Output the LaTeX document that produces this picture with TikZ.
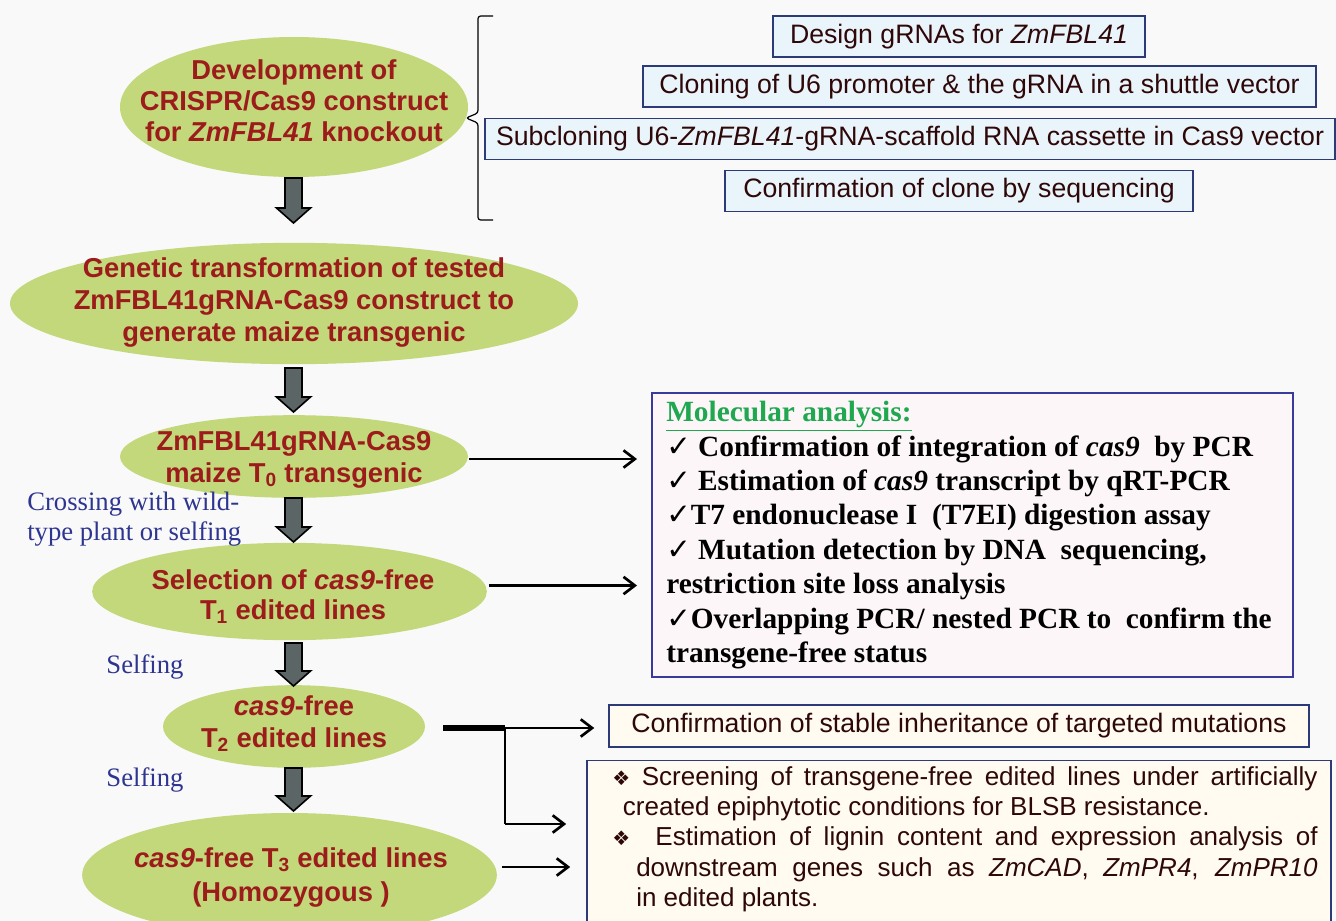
\documentclass[tikz,border=0pt]{standalone}
\usepackage{fontspec}
\setmainfont{Liberation Sans}
\newfontfamily\lserif{Liberation Serif}
\newfontfamily\dvsans{DejaVu Sans}
\usetikzlibrary{shapes.geometric,arrows.meta,calc}
\definecolor{ellgreen}{HTML}{C3D77B}
\definecolor{ellred}{HTML}{9C1B1B}
\definecolor{arrgray}{HTML}{5B6566}
\definecolor{boxfill}{HTML}{EAF4FB}
\definecolor{boxline}{HTML}{2C3A78}
\definecolor{boxtext}{HTML}{2E0808}
\definecolor{molfill}{HTML}{FDF6F8}
\definecolor{molline}{HTML}{3A3A9A}
\definecolor{titlegreen}{HTML}{1FA84F}
\definecolor{navy}{HTML}{2D3590}
\definecolor{cream}{HTML}{FFFBF0}
\definecolor{bgcol}{HTML}{F9F9F9}
\newcommand\blockarrow[3]{%
  \filldraw[blockarr] (#1-8.5,#2) -- (#1+8.5,#2) -- (#1+8.5,#3-15) -- (#1+17,#3-15)
    -- (#1,#3) -- (#1-17,#3-15) -- (#1-8.5,#3-15) -- cycle;}
\newcommand\dmd{{\dvsans\fontsize{15}{15}\selectfont ❖}}
\begin{document}
\begin{tikzpicture}[x=0.75pt,y=-0.75pt,
  ellshape/.style={ellipse, fill=ellgreen, inner sep=0pt, outer sep=0pt},
  elltext/.style={align=center, text=ellred, inner sep=0pt,
    font=\bfseries\fontsize{20.5}{24}\selectfont},
  tbox/.style={rectangle, draw=boxline, line width=1.1pt, fill=boxfill, inner sep=0pt,
    minimum height=31pt, text=boxtext, font=\fontsize{20}{24}\selectfont},
  conn/.style={line width=2pt, -{Straight Barb[length=8.5pt,width=13pt,line width=2pt]}},
  blockarr/.style={fill=arrgray, draw=black, line width=1.2pt, line join=miter},
  lab/.style={text=navy, font=\lserif\fontsize{20}{23}\selectfont, align=left, inner sep=0pt},
  moltext/.style={font=\lserif\bfseries\fontsize{22}{25.8}\selectfont, align=left, inner sep=0pt, text=black},
  scrtext/.style={font=\fontsize{19.5}{22.8}\selectfont, align=left, inner sep=0pt, text=boxtext}
]
\useasboundingbox (0,0) rectangle (1336,921);
\clip (0,0) rectangle (1336,921);
\fill[bgcol] (0,0) rectangle (1336,921);

% ellipses
\node[ellshape, minimum width=261pt, minimum height=105pt] (e1) at (294,107) {};
\node[elltext, font=\bfseries\fontsize{20.5}{23.4}\selectfont] (t1) at (294,101)
  {Development of\\CRISPR/Cas9 construct\\for \textit{ZmFBL41} knockout};
\node[ellshape, minimum width=426pt, minimum height=91pt] (e2) at (294,303.5) {};
\node[elltext] (t2) at (294,302)
  {Genetic transformation of tested\\ZmFBL41gRNA-Cas9 construct to\\generate maize transgenic};
\node[ellshape, minimum width=261pt, minimum height=62pt] (e3) at (294,456.5) {};
\node[elltext] (t3) at (294,460)
  {ZmFBL41gRNA-Cas9\\maize T\textsubscript{0} transgenic};
\node[ellshape, minimum width=296pt, minimum height=73pt] (e4) at (289.5,591.5) {};
\node[elltext, font=\bfseries\fontsize{20.5}{22.5}\selectfont] (t4) at (293,597)
  {Selection of \textit{cas9}-free\\T\textsubscript{1} edited lines};
\node[ellshape, minimum width=196.5pt, minimum height=62pt] (e5) at (294,726.5) {};
\node[elltext] (t5) at (294,724)
  {\textit{cas9}-free\\T\textsubscript{2} edited lines};
\node[ellshape, minimum width=311pt, minimum height=93pt] (e6) at (289.5,875) {};
\node[elltext, font=\bfseries\fontsize{20.5}{25.5}\selectfont] (t6) at (291,877)
  {\textit{cas9}-free T\textsubscript{3} edited lines\\(Homozygous )};

% block arrows
\blockarrow{293.5}{178}{223}
\blockarrow{293.5}{368}{412}
\blockarrow{293.5}{498}{542}
\blockarrow{293.5}{643}{686}
\blockarrow{293.5}{768}{811}

% brace
\draw[line width=0.9pt, rounded corners=2pt] (493,16) -- (478,16) -- (478,113) -- (466,118)
  -- (478,123) -- (478,220) -- (493,220);

% top boxes
\node[tbox, minimum width=279pt] (b1) at (959,36.5) {Design gRNAs for \textit{ZmFBL41}};
\node[tbox, minimum width=505pt] (b2) at (979.5,86.5) {Cloning of U6 promoter \& the gRNA in a shuttle vector};
\node[tbox, minimum width=637.5pt] (b3) at (910,139) {Subcloning U6-\textit{ZmFBL41}-gRNA-scaffold RNA cassette in Cas9 vector};
\node[tbox, minimum width=351pt] (b4) at (959,191) {Confirmation of clone by sequencing};

% molecular analysis box
\node[rectangle, draw=molline, line width=1.2pt, fill=molfill, minimum width=481pt, minimum height=213pt] (mol) at (972.5,535) {};
\node[moltext, anchor=north west] (mt) at (666,401) {%
{\color{titlegreen}\underline{Molecular analysis:}}\\
{\dvsans ✓} Confirmation of integration of \textit{cas9}\ \ by PCR\\
{\dvsans ✓} Estimation of \textit{cas9} transcript by qRT-PCR\\
{\dvsans ✓}T7 endonuclease I\ \ (T7EI) digestion assay\\
{\dvsans ✓} Mutation detection by DNA\ \ sequencing,\\
restriction site loss analysis\\
{\dvsans ✓}Overlapping PCR/ nested PCR to\ \ confirm the\\
transgene-free status};

% stable inheritance box
\node[tbox, fill=cream, minimum width=525pt, minimum height=31.5pt] (conf) at (959,726)
  {Confirmation of stable inheritance of targeted mutations};

% screening box
\node[rectangle, draw=boxline, line width=1.2pt, fill=cream, minimum width=558pt, minimum height=131pt] (scr) at (959,848) {};
\node[scrtext, anchor=north west] (st) at (612,766) {%
\makebox[529pt][s]{\dmd\ Screening of transgene-free edited lines under artificially}\\
\hspace*{8pt}created epiphytotic conditions for BLSB resistance.\\
\makebox[529pt][s]{\dmd\ \ Estimation of lignin content and expression analysis of}\\
\hspace*{18pt}\makebox[511pt][s]{downstream genes such as \textit{ZmCAD}, \textit{ZmPR4}, \textit{ZmPR10}}\\
\hspace*{18pt}in edited plants.};

% labels
\node[lab, anchor=west] (lab1) at (27,519) {Crossing with wild-\\type plant or selfing};
\node[lab] (lab2) at (145,667) {Selfing};
\node[lab] (lab3) at (145,780) {Selfing};

% connectors
\draw[conn] ($(e3.east)+(1,2.5)$) -- ($(e3.east -| mol.west)+(-14,2.5)$);
\draw[conn] ($(e4.east)+(2,-6)$) -- ($(e4.east -| mol.west)+(-14,-6)$);
\coordinate (br) at (505,728);
\coordinate (br2) at (505,824);
\draw[line width=4.5pt] ($(e5.east)+(18,1.5)$) -- (br);
\draw[conn] (br) -- ($(br -| conf.west)+(-14,0)$);
\draw[line width=2pt] (br) -- (br2);
\draw[conn] (br2) -- ($(br2 -| scr.west)+(-20,0)$);
\draw[conn] ($(e6.east)+(5,-8)$) -- ($(e6.east -| scr.west)+(-16,-8)$);
\end{tikzpicture}
\end{document}
